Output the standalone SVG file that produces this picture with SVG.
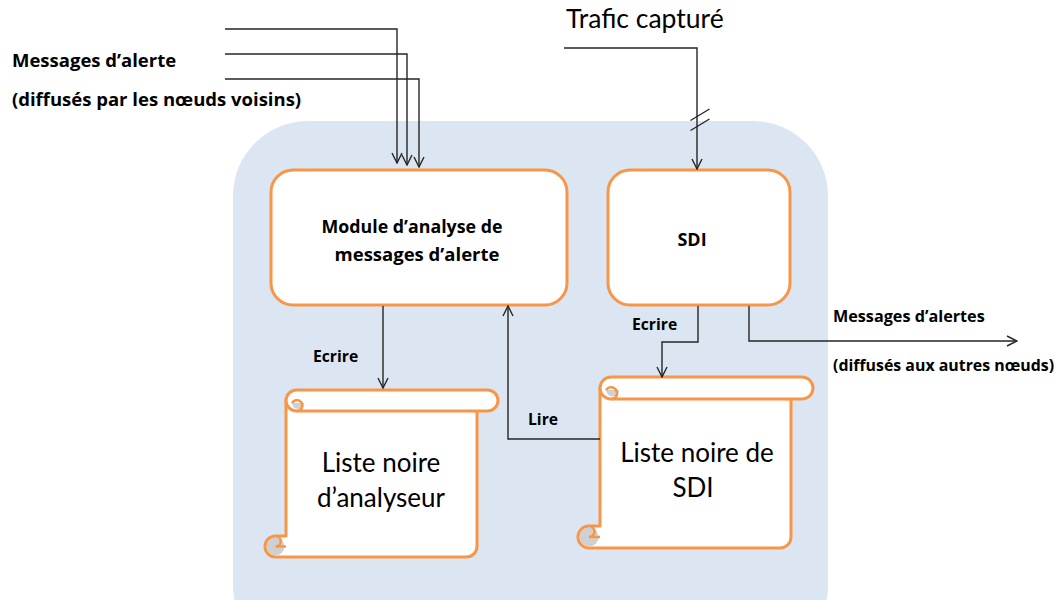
<svg xmlns="http://www.w3.org/2000/svg" width="1056" height="600" viewBox="0 0 1056 600">
  <style>
    .bold { font-family: "Open Sans", "Liberation Sans", sans-serif; font-weight: bold; fill: #000; }
    .reg { font-family: Lato, "Liberation Sans", sans-serif; fill: #000; }
    .box { fill: #fff; stroke: #f79646; stroke-width: 3; }
    .scroll { fill: #fff; stroke: #f79646; stroke-width: 3; stroke-linejoin: round; }
    .curl { fill: #d0d0d0; stroke: none; }
    .wire { fill: none; stroke: #262626; stroke-width: 1.4; }
  </style>
  <defs>
    <marker id="arrow" viewBox="0 0 12 12" refX="11" refY="6" markerWidth="12" markerHeight="12" markerUnits="userSpaceOnUse" orient="auto">
      <path d="M1,1 L11,6 L1,11" fill="none" stroke="#262626" stroke-width="1.4"/>
    </marker>
  </defs>

  <rect width="1056" height="600" fill="#fff"/>

  <!-- system boundary -->
  <rect id="system" x="233" y="121" width="595" height="540" rx="75" fill="#dce6f2"/>

  <!-- analysis module -->
  <g id="module-analyse">
    <rect class="box" x="271" y="170" width="296" height="135" rx="22"/>
    <text class="bold" x="412" y="233" font-size="17.8" text-anchor="middle">Module d’analyse de</text>
    <text class="bold" x="417" y="261" font-size="18.5" text-anchor="middle">messages d’alerte</text>
  </g>

  <!-- IDS -->
  <g id="sdi">
    <rect class="box" x="608" y="170" width="182" height="135" rx="22"/>
    <text class="bold" x="692" y="246" font-size="18" text-anchor="middle">SDI</text>
  </g>

  <!-- analyser blacklist (scroll: l=265 t=390 r=498 b=557 ch=21) -->
  <g id="liste-analyseur">
    <path class="scroll" d="M286,400 V536 H275.5 A10.5,10.5 0 0 0 275.5,557 H466.5 A10.5,10.5 0 0 0 477,546.5 V411 Z"/>
    <path class="scroll" d="M296.5,390 H487.5 A10.5,10.5 0 0 1 487.5,411 H296.5 A10.5,10.5 0 0 1 296.5,390 Z"/>
    <path class="curl" d="M292,403 A6,6 0 0 0 304,403 Z"/>
    <path d="M296.5,411 H298 A5.5,5.5 0 1 0 292,403" fill="none" stroke="#f79646" stroke-width="2.5"/>
    <circle class="curl" cx="275.5" cy="546.5" r="9"/>
    <path d="M275.5,536 A5.25,5.25 0 0 1 275.5,546.5 H286" fill="none" stroke="#f79646" stroke-width="2.5"/>
    <text class="reg" x="381" y="472" font-size="26" text-anchor="middle">Liste noire</text>
    <text class="reg" x="381" y="507" font-size="26" text-anchor="middle">d’analyseur</text>
  </g>

  <!-- IDS blacklist (scroll: l=578 t=377 r=813 b=548 ch=22) -->
  <g id="liste-sdi">
    <path class="scroll" d="M600,388 V526 H589 A11,11 0 0 0 589,548 H780 A11,11 0 0 0 791,537 V399 Z"/>
    <path class="scroll" d="M611,377 H802 A11,11 0 0 1 802,399 H611 A11,11 0 0 1 611,377 Z"/>
    <path class="curl" d="M606,390 A6.5,6.5 0 0 0 619,390 Z"/>
    <path d="M611,399 H612.5 A6,6 0 1 0 606,390" fill="none" stroke="#f79646" stroke-width="2.5"/>
    <circle class="curl" cx="589" cy="537" r="9.5"/>
    <path d="M589,526 A5.5,5.5 0 0 1 589,537 H600" fill="none" stroke="#f79646" stroke-width="2.5"/>
    <text class="reg" x="697" y="462" font-size="26" text-anchor="middle">Liste noire de</text>
    <text class="reg" x="693" y="497" font-size="26" text-anchor="middle">SDI</text>
  </g>

  <!-- free labels -->
  <g id="labels">
    <text class="bold" x="12" y="67" font-size="18.5">Messages d’alerte</text>
    <text class="bold" x="12" y="106" font-size="18.5">(diffusés par les nœuds voisins)</text>
    <text class="reg" x="566" y="28" font-size="26.5">Trafic capturé</text>
    <text class="bold" x="313" y="362" font-size="15.7">Ecrire</text>
    <text class="bold" x="528" y="425" font-size="15.7">Lire</text>
    <text class="bold" x="632" y="330" font-size="15.7">Ecrire</text>
    <text class="bold" x="833" y="322" font-size="16.2">Messages d’alertes</text>
    <text class="bold" x="833" y="371" font-size="15.9">(diffusés aux autres nœuds)</text>
  </g>

  <!-- connectors -->
  <g id="connectors">
    <polyline class="wire" points="225,29 397,29 397,163" marker-end="url(#arrow)"/>
    <polyline class="wire" points="225,54 407,54 407,165" marker-end="url(#arrow)"/>
    <polyline class="wire" points="225,79 419,79 419,167" marker-end="url(#arrow)"/>
    <polyline class="wire" points="564,48 697,48 697,169" marker-end="url(#arrow)"/>
    <line class="wire" x1="690.5" y1="120.5" x2="709.5" y2="109"/>
    <line class="wire" x1="690.5" y1="130.5" x2="709.5" y2="119"/>
    <polyline class="wire" points="383,306 383,388" marker-end="url(#arrow)"/>
    <polyline class="wire" points="600,439 508,439 508,306" marker-end="url(#arrow)"/>
    <polyline class="wire" points="698,306 698,342 662,342 662,377" marker-end="url(#arrow)"/>
    <polyline class="wire" points="749,306 749,341 1017,341" marker-end="url(#arrow)"/>
  </g>
</svg>
